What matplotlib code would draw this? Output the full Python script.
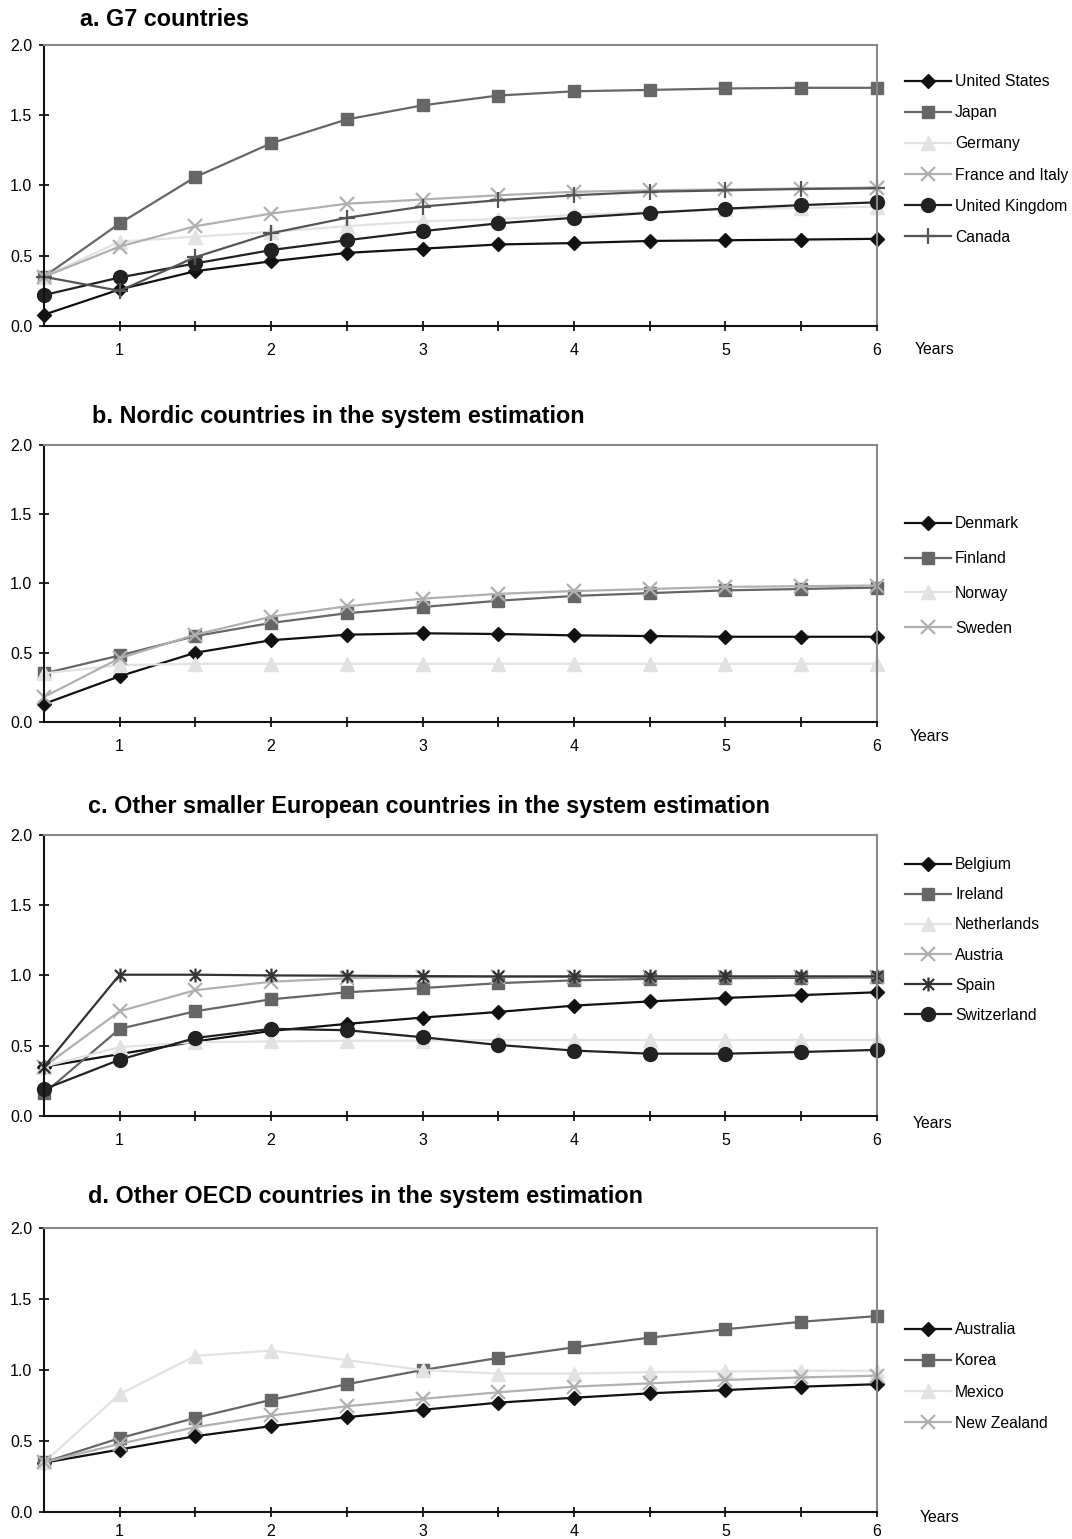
import numpy as np
import matplotlib.pyplot as plt
from matplotlib.path import Path

plt.rcParams['font.family'] = ['Liberation Sans', 'DejaVu Sans']

years = [0.5, 1, 1.5, 2, 2.5, 3, 3.5, 4, 4.5, 5, 5.5, 6]
year_labels = ['1', '2', '3', '4', '5', '6']

# a. G7 countries
g7_names = ['United States', 'Japan', 'Germany', 'France and Italy', 'United Kingdom', 'Canada']
us = [0.08, 0.26, 0.39, 0.46, 0.52, 0.55, 0.58, 0.59, 0.605, 0.61, 0.615, 0.62]
japan = [0.35, 0.73, 1.06, 1.30, 1.47, 1.57, 1.64, 1.67, 1.68, 1.69, 1.695, 1.695]
germany = [0.35, 0.60, 0.635, 0.67, 0.71, 0.745, 0.76, 0.79, 0.81, 0.83, 0.84, 0.85]
france_italy = [0.35, 0.565, 0.71, 0.80, 0.87, 0.90, 0.93, 0.955, 0.965, 0.972, 0.978, 0.985]
uk = [0.22, 0.345, 0.445, 0.54, 0.61, 0.675, 0.73, 0.77, 0.805, 0.835, 0.86, 0.88]
canada = [0.35, 0.25, 0.49, 0.66, 0.77, 0.85, 0.895, 0.93, 0.955, 0.965, 0.975, 0.98]

# b. Nordic countries
nordic_names = ['Denmark', 'Finland', 'Norway', 'Sweden']
denmark = [0.13, 0.33, 0.50, 0.59, 0.63, 0.64, 0.635, 0.625, 0.62, 0.615, 0.615, 0.615]
finland = [0.35, 0.48, 0.62, 0.715, 0.785, 0.83, 0.875, 0.91, 0.93, 0.95, 0.96, 0.97]
norway = [0.35, 0.41, 0.42, 0.42, 0.42, 0.42, 0.42, 0.42, 0.42, 0.42, 0.42, 0.42]
sweden = [0.18, 0.46, 0.63, 0.76, 0.835, 0.89, 0.925, 0.945, 0.96, 0.975, 0.98, 0.985]

# c. other smaller European countries
euro_names = ['Belgium', 'Ireland', 'Netherlands', 'Austria', 'Spain', 'Switzerland']
belgium = [0.35, 0.44, 0.53, 0.605, 0.655, 0.70, 0.74, 0.785, 0.815, 0.84, 0.86, 0.88]
ireland = [0.16, 0.62, 0.745, 0.83, 0.88, 0.91, 0.945, 0.965, 0.975, 0.98, 0.983, 0.986]
netherlands = [0.35, 0.49, 0.525, 0.53, 0.535, 0.535, 0.54, 0.54, 0.54, 0.54, 0.54, 0.54]
austria = [0.35, 0.745, 0.895, 0.955, 0.98, 0.988, 0.99, 0.99, 0.99, 0.99, 0.99, 0.99]
spain = [0.35, 1.005, 1.005, 1.0, 0.998, 0.995, 0.993, 0.993, 0.993, 0.993, 0.993, 0.993]
switzerland = [0.19, 0.40, 0.555, 0.62, 0.61, 0.56, 0.505, 0.465, 0.443, 0.443, 0.455, 0.47]

# d. other OECD countries
oecd_names = ['Australia', 'Korea', 'Mexico', 'New Zealand']
australia = [0.347, 0.44, 0.534, 0.605, 0.668, 0.72, 0.77, 0.805, 0.836, 0.859, 0.883, 0.90]
korea = [0.35, 0.52, 0.663, 0.79, 0.90, 1.0, 1.085, 1.16, 1.228, 1.287, 1.34, 1.38]
mexico = [0.35, 0.83, 1.10, 1.137, 1.07, 1.0, 0.975, 0.975, 0.985, 0.99, 0.995, 0.995]
new_zealand = [0.35, 0.48, 0.598, 0.68, 0.745, 0.797, 0.843, 0.883, 0.906, 0.93, 0.948, 0.96]

# excel style asterisk: an x with a vertical bar
star = Path([(-1, -1), (1, 1), (-1, 1), (1, -1), (0, -1.25), (0, 1.25)],
            [Path.MOVETO, Path.LINETO, Path.MOVETO, Path.LINETO, Path.MOVETO, Path.LINETO])

styles = {
    'diamond': dict(color='#111111', marker='D', ms=7),
    'square': dict(color='#666666', marker='s', ms=9),
    'triangle': dict(color='#e2e2e2', marker='^', ms=10),
    'cross': dict(color='#b0b0b0', marker='x', ms=10, mew=1.6),
    'circle': dict(color='#222222', marker='o', ms=10),
    'plus': dict(color='#555555', marker='+', ms=12, mew=1.6),
    'star': dict(color='#333333', marker=star, ms=10, mew=1.6),
}

fig = plt.figure(figsize=(10.72, 15.39), dpi=100)

panels = [
    dict(title='a. G7 countries', title_xy=(80, 19), rect=(0.041, 0.7882, 0.777, 0.1826),
         series=[(us, 'diamond'), (japan, 'square'), (germany, 'triangle'),
                 (france_italy, 'cross'), (uk, 'circle'), (canada, 'plus')],
         names=g7_names, leg_y=159.5, spacing=1.02, years_xy=(935, 349), xpad=9),
    dict(title='b. Nordic countries in the system estimation', title_xy=(92, 417),
         rect=(0.041, 0.5309, 0.777, 0.180),
         series=[(denmark, 'diamond'), (finland, 'square'), (norway, 'triangle'), (sweden, 'cross')],
         names=nordic_names, leg_y=576, spacing=1.26, years_xy=(930, 737), xpad=9),
    dict(title='c. Other smaller European countries in the system estimation', title_xy=(88, 806),
         rect=(0.041, 0.2749, 0.777, 0.1826),
         series=[(belgium, 'diamond'), (ireland, 'square'), (netherlands, 'triangle'),
                 (austria, 'cross'), (spain, 'star'), (switzerland, 'circle')],
         names=euro_names, leg_y=940, spacing=0.96, years_xy=(933, 1123), xpad=9),
    dict(title='d. Other OECD countries in the system estimation', title_xy=(88, 1197),
         rect=(0.041, 0.01754, 0.777, 0.1845),
         series=[(australia, 'diamond'), (korea, 'square'), (mexico, 'triangle'), (new_zealand, 'cross')],
         names=oecd_names, leg_y=1376.5, spacing=1.04, years_xy=(940, 1517), xpad=5),
]

W, H = 1072, 1539
for p in panels:
    ax = fig.add_axes(p['rect'])
    handles = []
    for (vals, key), name in zip(p['series'], p['names']):
        st = styles[key]
        ln, = ax.plot(years, vals, color=st['color'], lw=1.6, marker=st['marker'],
                      ms=st['ms'], mfc=st['color'], mec=st['color'],
                      mew=st.get('mew', 1.0), clip_on=False, label=name)
        handles.append(ln)

    ax.set_xlim(0.5, 6)
    ax.set_ylim(0, 2)
    ax.set_xticks([1, 2, 3, 4, 5, 6])
    ax.set_xticklabels(year_labels)
    ax.set_xticks([1.5, 2.5, 3.5, 4.5, 5.5], minor=True)
    ax.set_yticks([0, 0.5, 1.0, 1.5, 2.0])
    ax.set_yticklabels(['0.0', '0.5', '1.0', '1.5', '2.0'])
    ax.tick_params(axis='both', which='both', direction='inout', length=7, width=1.2,
                   labelsize=11.5, colors='black')
    ax.tick_params(axis='x', pad=p['xpad'])
    ax.tick_params(axis='y', pad=5)

    for side in ['left', 'bottom']:
        ax.spines[side].set_color('#111111')
        ax.spines[side].set_linewidth(1.5)
    for side in ['top', 'right']:
        ax.spines[side].set_color('#888888')
        ax.spines[side].set_linewidth(1.5)

    ax.legend(handles=handles, loc='center left',
              bbox_to_anchor=(905 / W, 1 - p['leg_y'] / H), bbox_transform=fig.transFigure,
              frameon=False, fontsize=11.3, handlelength=2.9, handletextpad=0.3,
              borderpad=0, borderaxespad=0, labelspacing=p['spacing'])

    tx, ty = p['title_xy']
    fig.text(tx / W, 1 - ty / H, p['title'], fontsize=16.8, fontweight='bold',
             ha='left', va='center')
    yx, yy = p['years_xy']
    fig.text(yx / W, 1 - yy / H, 'Years', fontsize=11.3, ha='center', va='center')

fig.savefig('out.png', dpi=100)
